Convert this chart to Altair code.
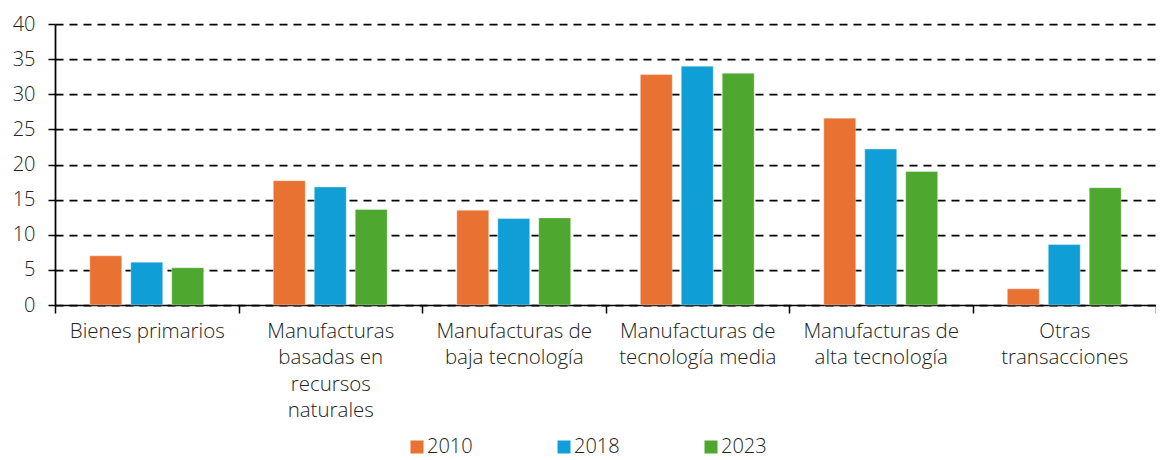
import json
import altair as alt
import pandas as pd

categories = [
    "Bienes primarios",
    "Manufacturas basadas en recursos naturales",
    "Manufacturas de baja tecnología",
    "Manufacturas de tecnología media",
    "Manufacturas de alta tecnología",
    "Otras transacciones",
]
label_lines = [
    ["Bienes primarios"],
    ["Manufacturas", "basadas en", "recursos", "naturales"],
    ["Manufacturas de", "baja tecnología"],
    ["Manufacturas de", "tecnología media"],
    ["Manufacturas de", "alta tecnología"],
    ["Otras", "transacciones"],
]
years = ["2010", "2018", "2023"]
v2010 = [7.0, 17.7, 13.5, 32.8, 26.6, 2.3]
v2018 = [6.1, 16.8, 12.3, 34.0, 22.2, 8.6]
v2023 = [5.3, 13.6, 12.4, 33.0, 19.0, 16.7]
colors = ["#E97132", "#0F9ED5", "#4EA72E"]
y_ticks = [0, 5, 10, 15, 20, 25, 30, 35, 40]

rows = []
for yr, vals in zip(years, [v2010, v2018, v2023]):
    for c, v in zip(categories, vals):
        rows.append({"cat": c, "year": yr, "value": v})
df = pd.DataFrame(rows)

expr = '""'
for c, lines in reversed(list(zip(categories, label_lines))):
    expr = f"datum.value == {json.dumps(c, ensure_ascii=False)} ? {json.dumps(lines, ensure_ascii=False)} : ({expr})"

font = "Open Sans"
txt = "#222222"
weight = 300

chart = (
    alt.Chart(df)
    .mark_bar(stroke="white", strokeOpacity=0.35, strokeWidth=1)
    .encode(
        x=alt.X(
            "cat:N",
            sort=categories,
            scale=alt.Scale(paddingInner=0, paddingOuter=0),
            axis=alt.Axis(
                title=None, labelAngle=0, labelExpr=expr, tickBand="extent",
                domainColor="black", domainWidth=1.5, tickColor="black",
                tickWidth=1.5, tickSize=8, labelFontSize=20.5, labelLineHeight=26.5,
                labelPadding=8, labelColor=txt, labelFont=font,
                labelFontWeight=weight, grid=False, labelLimit=0,
            ),
        ),
        xOffset=alt.XOffset(
            "year:N", sort=years,
            scale=alt.Scale(paddingInner=0.22, paddingOuter=0.85),
        ),
        y=alt.Y(
            "value:Q",
            scale=alt.Scale(domain=[0, 40]),
            axis=alt.Axis(
                title=None, values=y_ticks, grid=True, gridDash=[8, 6],
                gridColor="black", gridWidth=1.75, domainColor="black",
                domainWidth=1.75, tickColor="black", tickSize=7, tickWidth=1.5,
                labelFontSize=20, labelPadding=13, labelColor=txt, labelFont=font,
                labelFontWeight=weight,
            ),
        ),
        color=alt.Color(
            "year:N", sort=years,
            scale=alt.Scale(domain=years, range=colors),
            legend=alt.Legend(
                title=None, orient="none", legendX=352, legendY=413,
                direction="horizontal", symbolType="square", symbolSize=169,
                symbolStrokeWidth=0, labelFontSize=20, labelFont=font,
                labelFontWeight=weight, labelColor=txt, columnPadding=81,
                labelOffset=0,
            ),
        ),
    )
    .properties(
        width=1101, height=281,
        autosize=alt.AutoSizeParams(type="none"),
        padding={"left": 47, "top": 16, "right": 0, "bottom": 155},
    )
    .configure_view(stroke=None)
)

chart.save("out.html", embed_options={"renderer": "svg", "actions": False})
